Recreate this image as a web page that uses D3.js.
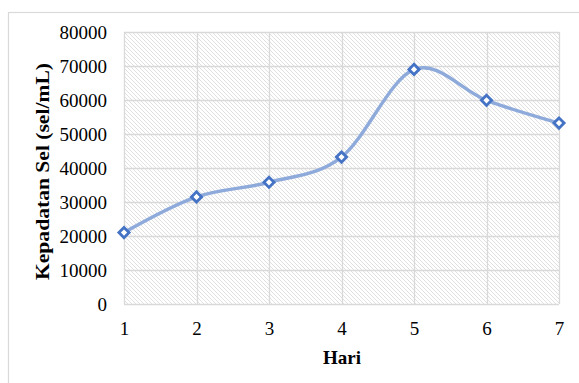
<!DOCTYPE html>
<html>
<head>
<meta charset="utf-8">
<script src="https://cdn.jsdelivr.net/npm/d3@7"></script>
<style>
  html, body { margin: 0; padding: 0; background: #fff; }
  svg { display: block; }
  text { font-family: "Liberation Serif", "Times New Roman", serif; fill: #000; }
</style>
</head>
<body>
<svg id="chart" width="579" height="383"></svg>
<script>
// Cell density by day
const days = [1, 2, 3, 4, 5, 6, 7];
const density = [21000, 31500, 35800, 43200, 69000, 59900, 53200];
const yTicks = [0, 10000, 20000, 30000, 40000, 50000, 60000, 70000, 80000];
const xTitle = "Hari";
const yTitle = "Kepadatan Sel (sel/mL)";

const svg = d3.select("#chart");
const W = 579, H = 383;
const plot = { left: 124, right: 559, top: 32, bottom: 304 };

// Outer chart frame (left and top edges are visible)
svg.append("rect")
  .attr("x", 8.5).attr("y", 12.5)
  .attr("width", W + 10).attr("height", H + 10)
  .attr("fill", "#fff")
  .attr("stroke", "#d9d9d9").attr("stroke-width", 1.2);

// Diagonal hatch fill for the plot area
const defs = svg.append("defs");
const pat = defs.append("pattern")
  .attr("id", "hatch")
  .attr("patternUnits", "userSpaceOnUse")
  .attr("width", 4).attr("height", 4);
pat.append("rect").attr("width", 4).attr("height", 4).attr("fill", "#fff");
pat.append("path")
  .attr("d", "M-1,-1 L5,5 M-1,3 L1,5 M3,-1 L5,1")
  .attr("stroke", "#e0e0e0").attr("stroke-width", 1);

const x = d3.scaleLinear().domain([1, 7]).range([plot.left, plot.right]);
const y = d3.scaleLinear().domain([0, 80000]).range([plot.bottom, plot.top]);

svg.append("rect")
  .attr("x", plot.left).attr("y", plot.top)
  .attr("width", plot.right - plot.left).attr("height", plot.bottom - plot.top)
  .attr("fill", "url(#hatch)");

// Gridlines
const grid = svg.append("g").attr("stroke", "#d9d9d9").attr("stroke-width", 1.3);
grid.selectAll("line.h").data(yTicks).join("line")
  .attr("class", "h")
  .attr("x1", plot.left).attr("x2", plot.right)
  .attr("y1", d => Math.round(y(d)) + 0.5).attr("y2", d => Math.round(y(d)) + 0.5);
grid.selectAll("line.v").data(days).join("line")
  .attr("class", "v")
  .attr("x1", d => Math.round(x(d)) + 0.5).attr("x2", d => Math.round(x(d)) + 0.5)
  .attr("y1", plot.top).attr("y2", plot.bottom);

// Y axis tick labels
const yAxis = d3.axisLeft(y).tickValues(yTicks).tickSize(0).tickPadding(17)
  .tickFormat(d3.format("d"));
const gy = svg.append("g").attr("transform", `translate(${plot.left},0)`).call(yAxis);
gy.select(".domain").remove();
gy.selectAll("text")
  .style("font-family", "'Liberation Serif', 'Times New Roman', serif")
  .style("font-size", "19px").attr("fill", "#000");

// X axis tick labels
const xAxis = d3.axisBottom(x).tickValues(days).tickSize(0).tickPadding(18)
  .tickFormat(d3.format("d"));
const gx = svg.append("g").attr("transform", `translate(0,${plot.bottom})`).call(xAxis);
gx.select(".domain").remove();
gx.selectAll("text")
  .style("font-family", "'Liberation Serif', 'Times New Roman', serif")
  .style("font-size", "19px").attr("fill", "#000");

// Axis titles
svg.append("text")
  .attr("x", (plot.left + plot.right) / 2 + 0.5).attr("y", 364)
  .attr("text-anchor", "middle")
  .style("font-size", "19px").style("font-weight", "bold")
  .text(xTitle);

svg.append("text")
  .attr("transform", "translate(49,171.5) rotate(-90)")
  .attr("text-anchor", "middle")
  .style("font-size", "19px").style("font-weight", "bold")
  .attr("textLength", 217).attr("lengthAdjust", "spacingAndGlyphs")
  .text(yTitle);

// Smoothed series line
const pts = days.map((d, i) => [d, density[i]]);
const line = d3.line()
  .x(d => x(d[0])).y(d => y(d[1]))
  .curve(d3.curveCatmullRom.alpha(0));
svg.append("path")
  .datum(pts)
  .attr("d", line)
  .attr("fill", "none")
  .attr("stroke", "#8eaadb")
  .attr("stroke-width", 3.4)
  .attr("stroke-linecap", "round");

// Diamond markers
svg.append("g").selectAll("rect").data(pts).join("rect")
  .attr("x", -3.6).attr("y", -3.6)
  .attr("width", 7.2).attr("height", 7.2)
  .attr("transform", d => `translate(${x(d[0])},${y(d[1])}) rotate(45)`)
  .attr("fill", "#fff")
  .attr("stroke", "#4472c4")
  .attr("stroke-width", 2.8);
</script>
</body>
</html>
